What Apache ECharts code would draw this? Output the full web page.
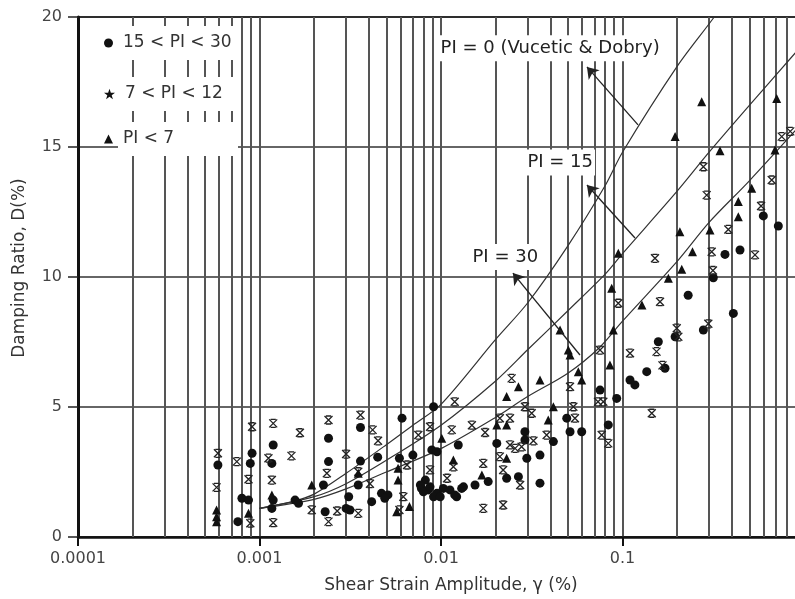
<!DOCTYPE html>
<html><head><meta charset="utf-8">
<script src="https://cdn.jsdelivr.net/npm/echarts@6/dist/echarts.min.js"></script>
<style>html,body{margin:0;padding:0;background:#fff}#c{width:795px;height:599px}</style>
</head><body><div id="c"></div><script>
// ---- data ----
const xTickLabels = ['0.0001', '0.001', '0.01', '0.1', '1'];
const yTickValues = [0, 5, 10, 15, 20];
const minorGridX = [0.0002,0.0003,0.0004,0.0005,0.0006,0.0007,0.0008,0.0009,
  0.002,0.003,0.004,0.005,0.006,0.007,0.008,0.009,
  0.02,0.03,0.04,0.05,0.06,0.07,0.08,0.09,
  0.2,0.3,0.4,0.5,0.6,0.7,0.8,0.9];
const seriesNames = ['15 < PI < 30', '7 < PI < 12', 'PI < 7'];
const circlePts = [
[0.00059,2.77],[0.00076,0.59],[0.0008,1.49],[0.00087,1.42],[0.00091,3.22],[0.00089,2.83],
[0.00119,3.54],[0.00117,2.83],[0.00119,1.42],[0.00117,1.10],[0.00157,1.42],[0.00164,1.30],
[0.00225,2.0],[0.0023,0.97],[0.0024,3.8],[0.0024,2.90],[0.0031,1.55],[0.0030,1.10],[0.00315,1.04],
[0.0036,4.21],[0.0036,2.92],[0.0035,2.0],[0.00415,1.36],[0.00448,3.07],[0.0047,1.68],[0.0051,1.62],[0.0049,1.49],
[0.0061,4.57],[0.0059,3.03],[0.0070,3.15],[0.0091,5.01],[0.0089,3.35],[0.0095,3.28],[0.01245,3.54],
[0.0082,2.19],[0.0078,1.87],[0.0085,1.81],[0.0077,2.0],[0.0080,1.74],[0.0087,1.93],[0.0095,1.68],[0.0091,1.55],[0.0099,1.55],
[0.0103,1.87],[0.0112,1.81],[0.0122,1.55],[0.013,1.87],[0.0133,1.93],[0.0119,1.62],[0.0154,2.0],[0.0182,2.13],[0.0203,3.6],
[0.023,2.26],[0.0267,2.32],[0.029,4.05],[0.029,3.73],[0.0297,3.03],[0.0351,3.15],[0.0351,2.07],[0.0416,3.67],
[0.0493,4.57],[0.0514,4.05],[0.0596,4.05],[0.0752,5.65],[0.0929,5.33],[0.0835,4.31],[0.110,6.04],[0.117,5.85],
[0.136,6.36],[0.1715,6.49],[0.1575,7.51],[0.195,7.70],[0.230,9.3],[0.279,7.96],[0.3165,9.97],[0.367,10.87],
[0.408,8.60],[0.444,11.04],[0.597,12.35],[0.722,11.96]
];
const asteriskPts = [
[0.00059,3.22],[0.00058,1.91],[0.00075,2.90],[0.00091,4.24],[0.00087,2.22],[0.00089,0.53],
[0.00119,4.37],[0.00112,3.03],[0.00117,2.19],[0.00119,0.55],[0.00167,4.01],[0.0015,3.12],[0.00194,1.04],
[0.0024,4.5],[0.00235,2.45],[0.0024,0.59],[0.0030,3.19],[0.00268,1.0],[0.0035,0.91],[0.0036,4.69],[0.0035,2.51],
[0.00406,2.05],[0.0042,4.12],[0.0045,3.70],[0.0062,1.55],[0.0065,2.77],[0.0059,1.04],[0.0075,3.92],[0.0087,4.24],
[0.01146,4.12],[0.0119,5.20],[0.0108,2.26],[0.0087,2.58],[0.0117,2.70],[0.0148,4.30],[0.0175,4.02],[0.0171,2.83],
[0.0211,4.57],[0.024,4.57],[0.0245,6.10],[0.029,5.01],[0.0316,4.76],[0.024,3.54],[0.0256,3.41],[0.0278,3.47],[0.0323,3.70],
[0.0211,3.09],[0.022,2.58],[0.0273,2.0],[0.0171,1.10],[0.022,1.23],[0.0382,3.92],[0.0536,5.01],[0.0547,4.57],[0.0514,5.78],
[0.0752,7.19],[0.0784,5.20],[0.0733,5.20],[0.0768,3.92],[0.0835,3.60],[0.0948,8.99],[0.110,7.07],[0.154,7.13],[0.161,9.05],
[0.145,4.76],[0.151,10.72],[0.166,6.6],[0.199,8.03],[0.203,7.70],[0.297,8.2],[0.279,14.24],[0.291,13.15],[0.310,10.97],
[0.315,10.25],[0.383,11.83],[0.537,10.85],[0.58,12.73],[0.664,13.73],[0.754,15.40],[0.84,15.6]
];
const trianglePts = [
[0.00058,1.04],[0.00058,0.78],[0.00058,0.59],[0.00087,0.91],[0.00117,1.62],[0.00194,2.0],[0.0035,2.45],
[0.0058,2.64],[0.0058,2.19],[0.0057,0.97],[0.0067,1.17],[0.0101,3.8],[0.0117,2.96],[0.0168,2.38],
[0.0203,4.31],[0.023,4.31],[0.023,5.40],[0.023,3.03],[0.0267,5.78],[0.0351,6.04],[0.039,4.5],[0.0416,5.01],
[0.0453,7.96],[0.0503,7.19],[0.0514,7.0],[0.0571,6.36],[0.0596,6.04],[0.0853,6.62],[0.089,7.96],[0.0872,9.57],
[0.0948,10.91],[0.128,8.92],[0.179,9.95],[0.212,10.3],[0.207,11.74],[0.243,10.97],[0.3035,11.81],[0.4345,12.32],
[0.4345,12.90],[0.515,13.41],[0.195,15.40],[0.273,16.74],[0.3445,14.86],[0.692,14.88],[0.707,16.87]
];
const curvePI0 = [[0.001,1.1],[0.0015,1.35],[0.002,1.65],[0.003,2.45],[0.005,3.55],[0.007,4.3],[0.01,5.1],[0.02,7.6],[0.03,9.0],[0.05,11.2],[0.08,13.5],[0.1,14.8],[0.2,18.1],[0.32,20.0],[0.4,21.0]];
const curvePI15 = [[0.001,1.1],[0.002,1.55],[0.003,2.05],[0.005,2.95],[0.01,4.3],[0.02,6.0],[0.03,7.2],[0.05,8.7],[0.08,10.1],[0.1,10.9],[0.2,13.3],[0.3,14.8],[0.5,16.6],[1,19.0]];
const curvePI30 = [[0.001,1.1],[0.002,1.45],[0.003,1.85],[0.005,2.5],[0.01,3.4],[0.02,4.6],[0.03,5.4],[0.05,6.3],[0.075,7.3],[0.1,8.3],[0.2,10.6],[0.3,12.1],[0.5,13.7],[1,16.0]];
const curveLabels = ['PI = 0 (Vucetic & Dobry)', 'PI = 15', 'PI = 30'];
const labelAnchors = [[0.00963,18.8],[0.029,14.4],[0.01445,10.77]];
const arrowTails = [[0.1218,15.85],[0.1172,11.5],[0.0583,7.0]];
const arrowHeads = [[0.0637,18.08],[0.0637,13.54],[0.0249,10.15]];

// ---- chart ----
const FONT = 'DejaVu Sans';
const TXT = '#333';
const INK = '#111';
const ASTER = 'path://M-4,-4L4,4M4,-4L-4,4M-2.6,-4L2.6,-4M-2.6,4L2.6,4';
const STAR = 'path://M0,-10L2.35,-3.24L9.51,-3.09L3.8,1.24L5.88,8.09L0,4L-5.88,8.09L-3.8,1.24L-9.51,-3.09L-2.35,-3.24Z';

const chart = echarts.init(document.getElementById('c'));
function xLabel(v) {
  const e = Math.round(Math.log10(v));
  const i = e + 4;
  return (i >= 0 && i < xTickLabels.length) ? xTickLabels[i] : '';
}
function mkLegend(name, icon, top, w, h, boxW) {
  return {
    orient: 'vertical', left: 104, top: top, padding: 0, itemGap: 0,
    itemWidth: w, itemHeight: h, selectedMode: false,
    data: [{ name: name, icon: icon, itemStyle: { color: INK, borderWidth: 0, opacity: 1 } }],
    textStyle: { fontFamily: FONT, fontSize: 17, color: TXT, backgroundColor: '#fff',
      padding: [8, 4, 9, 5], width: boxW, overflow: 'none' }
  };
}
const lineStyleCurve = { color: '#333', width: 1.2 };
const option = {
  animation: false,
  backgroundColor: '#fff',
  textStyle: { fontFamily: FONT },
  grid: { left: 78, top: 17, right: -9, bottom: 62, show: true, borderColor: '#222', borderWidth: 2,
          backgroundColor: 'rgba(0,0,0,0)', outerBoundsMode: 'none', containLabel: false },
  xAxis: {
    type: 'log', logBase: 10, min: 0.0001, max: 1,
    name: 'Shear Strain Amplitude, γ (%)', nameLocation: 'middle', nameGap: 40,
    nameTextStyle: { fontFamily: FONT, fontSize: 17, color: TXT, padding: [0, 0, 0, 20] },
    axisLine: { show: true, onZero: false, lineStyle: { color: INK, width: 2.5 } },
    axisTick: { show: true, inside: false, length: 9, lineStyle: { color: INK, width: 2 } },
    minorTick: { show: false },
    axisLabel: { fontFamily: FONT, fontSize: 16, color: '#444', margin: 14, formatter: xLabel, showMaxLabel: true, showMinLabel: true },
    splitLine: { show: true, lineStyle: { color: '#555', width: 2 } }
  },
  yAxis: {
    type: 'value', min: yTickValues[0], max: yTickValues[yTickValues.length - 1], interval: 5,
    name: 'Damping Ratio, D(%)', nameLocation: 'middle', nameGap: 50,
    nameTextStyle: { fontFamily: FONT, fontSize: 17, color: TXT, padding: [0, 0, 0, 18] },
    axisLine: { show: true, onZero: false, lineStyle: { color: INK, width: 3 } },
    axisTick: { show: true, inside: false, length: 10, lineStyle: { color: '#222', width: 1.5 } },
    axisLabel: { fontFamily: FONT, fontSize: 16, color: '#444', margin: 16 },
    splitLine: { show: true, lineStyle: { color: '#333', width: 1.5 } }
  },
  legend: [
    mkLegend(seriesNames[0], 'circle', 26, 9, 9, 111),
    mkLegend(seriesNames[1], STAR, 77, 11, 11, 109),
    mkLegend(seriesNames[2], 'triangle', 122, 9, 9, 111)
  ],
  series: [
    { type: 'line', name: 'PI0', data: curvePI0, smooth: 0.3, symbol: 'none', silent: true, z: 2,
      lineStyle: lineStyleCurve, clip: true,
      markLine: { silent: true, z: 1, symbol: 'none', precision: 8, label: { show: false },
        lineStyle: { color: '#555', width: 2, type: 'solid' },
        emphasis: { disabled: true },
        data: minorGridX.map(v => ({ xAxis: v })) } },
    { type: 'line', name: 'PI15', data: curvePI15, smooth: 0.3, symbol: 'none', silent: true, z: 2,
      lineStyle: lineStyleCurve, clip: true },
    { type: 'line', name: 'PI30', data: curvePI30, smooth: 0.3, symbol: 'none', silent: true, z: 2,
      lineStyle: lineStyleCurve, clip: true },
    { type: 'scatter', name: seriesNames[0], data: circlePts, symbol: 'circle', symbolSize: 9, z: 3,
      itemStyle: { color: INK, opacity: 1 } },
    { type: 'scatter', name: seriesNames[1], data: asteriskPts, symbol: ASTER, symbolSize: 8, z: 3,
      itemStyle: { color: 'rgba(0,0,0,0)', borderColor: '#222', borderWidth: 1.3, opacity: 1 } },
    { type: 'scatter', name: seriesNames[2], data: trianglePts, symbol: 'triangle', symbolSize: 9, z: 3,
      itemStyle: { color: INK, opacity: 1 } },
    { type: 'scatter', name: 'labels', z: 4, silent: true, symbolSize: 1,
      itemStyle: { color: 'rgba(0,0,0,0)' },
      data: curveLabels.map((t, i) => ({ name: t, value: labelAnchors[i] })),
      label: { show: true, position: 'right', distance: 0, formatter: p => p.name, opacity: 1,
        textBorderWidth: 0, fontFamily: FONT, fontSize: 18, color: '#222', backgroundColor: '#fff', padding: [4, 2, 4, 2] },
      markLine: { silent: true, z: 4, symbol: ['none', 'arrow'], symbolSize: 11, precision: 8, label: { show: false },
        lineStyle: { color: '#222', width: 1.3, type: 'solid' },
        data: arrowTails.map((t, i) => [{ coord: t }, { coord: arrowHeads[i] }]) } }
  ]
};
chart.setOption(option);
</script></body></html>
